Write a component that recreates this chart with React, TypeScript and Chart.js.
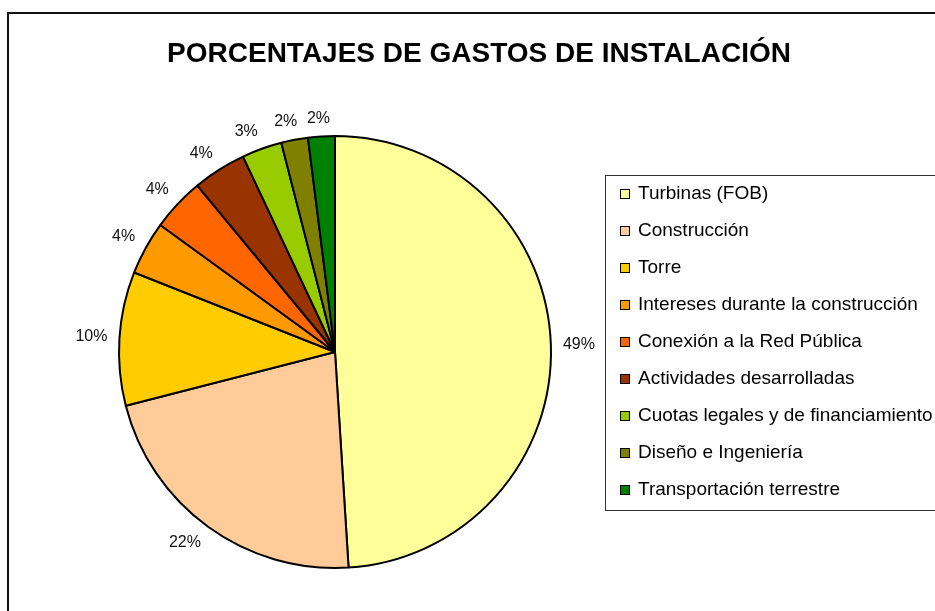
import React, { useEffect, useRef } from "react";
import { Chart, registerables } from "chart.js";

Chart.register(...registerables);

const TITLE = "PORCENTAJES DE GASTOS DE INSTALACIÓN";
const categories = [
  "Turbinas (FOB)",
  "Construcción",
  "Torre",
  "Intereses durante la construcción",
  "Conexión a la Red Pública",
  "Actividades desarrolladas",
  "Cuotas legales y de financiamiento",
  "Diseño e Ingeniería",
  "Transportación terrestre",
];
const values = [49, 22, 10, 4, 4, 4, 3, 2, 2];
const colors = [
  "#FFFF99",
  "#FFCC99",
  "#FFCC00",
  "#FF9900",
  "#FF6600",
  "#993300",
  "#99CC00",
  "#808000",
  "#008000",
];

const FONT = "'Liberation Sans', Arial, sans-serif";

const decorPlugin = {
  id: "decor",
  afterDraw(chart: any) {
    const ctx = chart.ctx as CanvasRenderingContext2D;
    ctx.save();
    // outer chart border (left & top visible)
    ctx.strokeStyle = "#111";
    ctx.lineWidth = 2;
    ctx.beginPath();
    ctx.moveTo(8, 620);
    ctx.lineTo(8, 13);
    ctx.lineTo(950, 13);
    ctx.stroke();

    // title
    ctx.fillStyle = "#000";
    ctx.font = `bold 28px ${FONT}`;
    ctx.textAlign = "center";
    ctx.textBaseline = "alphabetic";
    ctx.fillText(TITLE, 479, 62);

    // data labels
    const meta = chart.getDatasetMeta(0);
    const data = chart.data.datasets[0].data as number[];
    const total = data.reduce((a, b) => a + b, 0);
    ctx.font = `16px ${FONT}`;
    ctx.fillStyle = "#111";
    ctx.textAlign = "center";
    ctx.textBaseline = "middle";
    const clamp = (v: number) => Math.max(-1, Math.min(1, v));
    meta.data.forEach((arc: any, i: number) => {
      const p = arc.getProps(["x", "y", "startAngle", "endAngle", "outerRadius"], true);
      const mid = (p.startAngle + p.endAngle) / 2;
      const r = p.outerRadius + 12;
      const ax = p.x + Math.cos(mid) * r;
      const ay = p.y + Math.sin(mid) * r;
      const text = Math.round((data[i] / total) * 100) + "%";
      const w = ctx.measureText(text).width;
      const h = 12;
      const cx = ax + clamp(Math.cos(mid) * 3) * (w / 2);
      const cy = ay + clamp(Math.sin(mid) * 3) * (h / 2);
      ctx.fillText(text, cx, cy);
    });

    // legend box
    ctx.strokeStyle = "#333";
    ctx.lineWidth = 1;
    ctx.strokeRect(605.5, 175.5, 400, 335);
    const labels = chart.data.labels as string[];
    const bg = chart.data.datasets[0].backgroundColor as string[];
    ctx.font = `19px ${FONT}`;
    ctx.textAlign = "left";
    ctx.textBaseline = "middle";
    labels.forEach((lab, i) => {
      const y = 193 + i * 37;
      ctx.fillStyle = bg[i];
      ctx.fillRect(620, y - 4, 10, 10);
      ctx.strokeStyle = "#000";
      ctx.strokeRect(620.5, y - 3.5, 9, 9);
      ctx.fillStyle = "#000";
      ctx.fillText(lab, 638, y + 1);
    });
    ctx.restore();
  },
};

export default function App() {
  const ref = useRef<HTMLCanvasElement>(null);
  useEffect(() => {
    if (!ref.current) return;
    const chart = new Chart(ref.current, {
      type: "pie",
      data: {
        labels: categories,
        datasets: [
          {
            data: values,
            backgroundColor: colors,
            borderColor: "#000",
            borderWidth: 2,
          },
        ],
      },
      options: {
        animation: false,
        responsive: false,
        devicePixelRatio: 1,
        layout: { padding: { top: 135, bottom: 42, left: 118, right: 383 } },
        plugins: {
          legend: { display: false },
          tooltip: { enabled: false },
          title: { display: false },
        },
      },
      plugins: [decorPlugin],
    });
    return () => chart.destroy();
  }, []);
  return (
    <div
      style={{
        position: "fixed",
        left: 0,
        top: 0,
        width: 935,
        height: 611,
        background: "#fff",
        overflow: "hidden",
      }}
    >
      <canvas ref={ref} width={935} height={611} style={{ display: "block" }} />
    </div>
  );
}
